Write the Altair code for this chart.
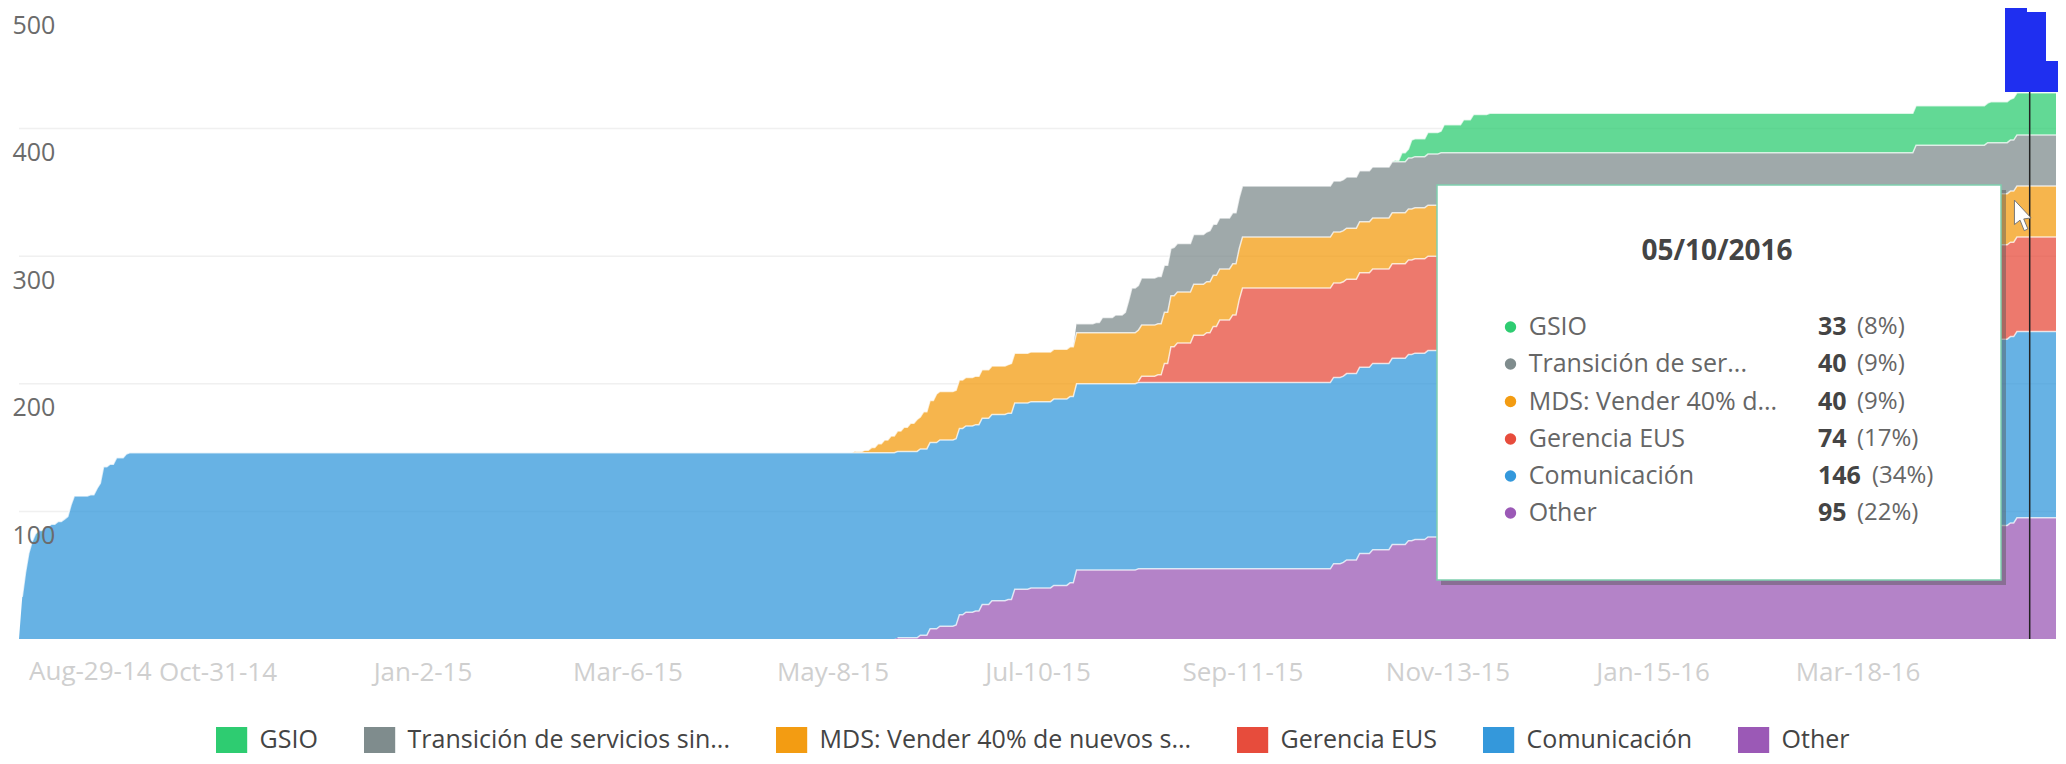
import altair as alt
import pandas as pd

FONT = "Open Sans"

series_names = ["GSIO", "Transición de servicios sin...", "MDS: Vender 40% de nuevos s...",
                "Gerencia EUS", "Comunicación", "Other"]
series_colors = ["#2ecc71", "#7f8c8d", "#f39c12", "#e74c3c", "#3498db", "#9b59b6"]

# Cumulative counts: the date each one changes, and the count from that date on.
other_dates = ["2015-05-28", "2015-06-04", "2015-06-07", "2015-06-10", "2015-06-15", "2015-06-16",
               "2015-06-18", "2015-06-21", "2015-06-23", "2015-06-26", "2015-07-01", "2015-07-03",
               "2015-07-08", "2015-07-15", "2015-07-20", "2015-07-22", "2015-08-10", "2015-10-09",
               "2015-10-12", "2015-10-13", "2015-10-17", "2015-10-21", "2015-10-27", "2015-11-01",
               "2015-11-03", "2015-11-07", "2015-11-11", "2016-04-05", "2016-04-27", "2016-05-04",
               "2016-05-06"]
other_values = [1, 3, 8, 10, 11, 19, 21, 22, 27, 30, 31, 39, 40, 42, 44, 54, 55, 59, 60, 62, 67, 70,
                74, 77, 78, 80, 81, 87, 89, 91, 95]

comunicacion_dates = ["2014-09-01", "2014-09-02", "2014-09-03", "2014-09-04", "2014-09-05", "2014-09-06",
                      "2014-09-08", "2014-09-10", "2014-09-12", "2014-09-14", "2014-09-15", "2014-09-16",
                      "2014-09-17", "2014-09-22", "2014-09-24", "2014-09-25", "2014-09-26", "2014-09-28",
                      "2014-09-30", "2014-10-03", "2014-10-04"]
comunicacion_values = [33, 52, 67, 76, 82, 85, 88, 90, 92, 94, 96, 105, 112, 113, 118, 122, 135, 137,
                       142, 145, 146]

gerencia_dates = ["2015-08-10", "2015-08-11", "2015-08-16", "2015-08-18", "2015-08-20", "2015-08-22",
                  "2015-08-27", "2015-08-31", "2015-09-02", "2015-09-04", "2015-09-08", "2015-09-10",
                  "2015-09-11"]
gerencia_values = [1, 5, 6, 15, 28, 31, 37, 39, 44, 49, 53, 65, 74]

mds_dates = ["2015-05-15", "2015-05-18", "2015-05-20", "2015-05-22", "2015-05-24", "2015-05-26",
             "2015-05-28", "2015-05-30", "2015-06-01", "2015-06-03", "2015-06-05", "2015-06-07",
             "2015-06-09", "2015-07-02", "2015-07-22"]
mds_values = [1, 2, 4, 7, 10, 13, 16, 19, 22, 25, 29, 33, 38, 39, 40]

transicion_dates = ["2015-07-22", "2015-07-28", "2015-07-30", "2015-08-03", "2015-08-06", "2015-08-07",
                    "2015-08-08", "2015-08-11", "2015-08-21", "2015-08-27", "2015-09-01"]
transicion_values = [7, 8, 12, 14, 16, 25, 35, 37, 38, 39, 40]

gsio_dates = ["2015-10-28", "2015-10-30", "2015-11-02", "2015-11-07", "2015-11-12", "2015-11-18",
              "2015-11-21", "2015-11-26", "2016-04-28", "2016-05-05"]
gsio_values = [1, 7, 14, 17, 22, 26, 30, 31, 32, 33]

first_day = "2014-08-31"
last_day = "2016-05-18"

tick_dates = ["2014-10-31", "2015-01-02", "2015-03-06", "2015-05-08", "2015-07-10",
              "2015-09-11", "2015-11-13", "2016-01-15", "2016-03-18"]
first_tick_date = "2014-08-29"
first_tick_label = "Aug-29-14"
y_ticks = [100, 200, 300, 400, 500]

tip_title = "05/10/2016"
tip_names = ["GSIO", "Transición de ser...", "MDS: Vender 40% d...", "Gerencia EUS", "Comunicación", "Other"]
tip_counts = [33, 40, 40, 74, 146, 95]
tip_shares = ["(8%)", "(9%)", "(9%)", "(17%)", "(34%)", "(22%)"]


def ms(day):
    return int(pd.Timestamp(day, tz="UTC").timestamp() * 1000)


days = pd.date_range(first_day, last_day, freq="D")
stack_bottom_up = [
    ("Other", other_dates, other_values),
    ("Comunicación", comunicacion_dates, comunicacion_values),
    ("Gerencia EUS", gerencia_dates, gerencia_values),
    ("MDS: Vender 40% de nuevos s...", mds_dates, mds_values),
    ("Transición de servicios sin...", transicion_dates, transicion_values),
    ("GSIO", gsio_dates, gsio_values),
]
rows = []
base = pd.Series(0.0, index=days)
for name, ds, vs in stack_bottom_up:
    held = pd.Series(vs, index=pd.to_datetime(ds), dtype=float).reindex(days, method="ffill").fillna(0.0)
    top = base + held
    for d in days:
        rows.append({"date": d.strftime("%Y-%m-%d"), "series": name, "value": held[d],
                     "bottom": base[d], "top": top[d]})
    base = top
table = pd.DataFrame(rows)

# page geometry: plot origin on the page is (19, 1)
W, H = 2037, 638
OX, OY = 19, 1


def px(v):
    return alt.value(v - OX)


def py(v):
    return alt.value(v - OY)


x_scale = alt.Scale(type="utc", domain=[ms(first_day), ms(last_day)])
y_scale = alt.Scale(domain=[0, 500], range=[H, 0], nice=False)

x_enc = alt.X("date:T", scale=x_scale, title=None,
              axis=alt.Axis(values=[ms(t) for t in tick_dates], format="%b-%-d-%y", grid=False,
                            ticks=False, domain=False, labelFont=FONT, labelFontSize=26,
                            labelColor="#cfcfcf", labelBaseline="middle", labelPadding=33,
                            labelOverlap=False, labelFlush=False))
y_axis = alt.Axis(values=y_ticks, grid=False, ticks=False, domain=False, labelFont=FONT, labelFontSize=25,
                  labelColor="#6b6b6b", labelAlign="left", labelBaseline="middle",
                  labelPadding=7, labelOffset=24, zindex=1)

grid = alt.Chart(pd.DataFrame({"tick": y_ticks})).mark_rule(color="#f0f0f0", strokeWidth=1.5).encode(
    y=alt.Y("tick:Q", scale=y_scale, axis=y_axis, title=None))

areas = alt.Chart(table).mark_area(fillOpacity=0.75, strokeWidth=0, interpolate="linear").encode(
    x=x_enc, y=alt.Y("top:Q", scale=y_scale, axis=y_axis, title=None), y2="bottom:Q",
    color=alt.Color("series:N",
                    scale=alt.Scale(domain=series_names, range=series_colors),
                    legend=alt.Legend(title=None, orient="none", direction="horizontal",
                                      legendX=218.6 - OX, legendY=727 - OY,
                                      symbolType="M-1.2,-1H1.2V1H-1.2Z", symbolSize=676,
                                      symbolOpacity=1, symbolStrokeWidth=0,
                                      labelFont=FONT, labelFontSize=25, labelColor="#444444",
                                      labelLimit=500, labelOffset=15, columnPadding=45,
                                      columns=6)),
)

lines = alt.Chart(table).transform_filter("datum.value > 0").mark_line(
    color="#ffffff", strokeWidth=1.5, opacity=0.7, interpolate="linear"
).encode(x=x_enc, y=alt.Y("top:Q", scale=y_scale, axis=y_axis, title=None), detail="series:N")

first_label = alt.Chart(pd.DataFrame({"date": [first_tick_date], "label": [first_tick_label]})).mark_text(
    font=FONT, fontSize=26, color="#cfcfcf", align="left", baseline="middle", dx=16.5
).encode(x=x_enc, y=alt.value(672 - OY), text="label:N")

blank = pd.DataFrame({"k": [0]})


def box(x0, x1, y0, y1, **kw):
    return alt.Chart(blank).mark_rect(**kw).encode(x=px(x0), x2=px(x1), y=py(y0), y2=py(y1))


def label(text, x, y, size=25, color="#666666", weight="normal", align="left"):
    return alt.Chart(pd.DataFrame({"t": [text]})).mark_text(
        font=FONT, fontSize=size, color=color, fontWeight=weight, align=align, baseline="middle"
    ).encode(x=px(x), y=py(y), text="t:N")


overlay = [
    box(1441, 2006, 190, 585, color="#555555", opacity=0.45),
    box(1437, 2001, 185, 580, fill="#ffffff", stroke="#7fcfae", strokeWidth=1.5),
    label(tip_title, 1717, 252, size=28, color="#444444", weight="bold", align="center"),
]
row_y = [327, 364, 401.5, 439, 476, 513]
share_x = [1857, 1857, 1857, 1857, 1872, 1857]
for i, yy in enumerate(row_y):
    overlay.append(
        alt.Chart(blank).mark_point(filled=True, shape="circle", size=130, opacity=1,
                                    color=series_colors[i]).encode(x=px(1510.5), y=py(yy)))
    overlay.append(label(tip_names[i], 1528.7, yy))
    overlay.append(label(str(tip_counts[i]), 1818, yy, color="#444444", weight="bold"))
    overlay.append(label(tip_shares[i], share_x[i], yy, size=24))

overlay.append(alt.Chart(blank).mark_rule(color="#222222", strokeWidth=1.5).encode(
    x=px(2029.7), y=py(92), y2=py(639)))
overlay.append(alt.Chart(blank).mark_point(
    filled=True, fill="#ffffff", stroke="#777777", strokeWidth=1, opacity=1, size=2400,
    shape="M-0.35,-0.65 L-0.35,0.35 L-0.12,0.17 L0.05,0.6 L0.2,0.53 L0.03,0.12 L0.33,0.08 Z"
).encode(x=px(2023), y=py(216)))
overlay += [
    box(2005, 2058, 0, 92, color="#1f2ff0"),
    box(2027, 2058, 0, 12, color="#ffffff"),
    box(2046, 2058, 0, 61, color="#ffffff"),
]

chart = alt.layer(grid, areas, lines, first_label, *overlay).properties(
    width=W, height=H,
    autosize=alt.AutoSizeParams(type="none"),
    padding={"left": 11, "top": -7, "right": 2, "bottom": 117},
).configure_view(stroke=None)

chart.save("out.html", embed_options={"renderer": "svg", "actions": False})
